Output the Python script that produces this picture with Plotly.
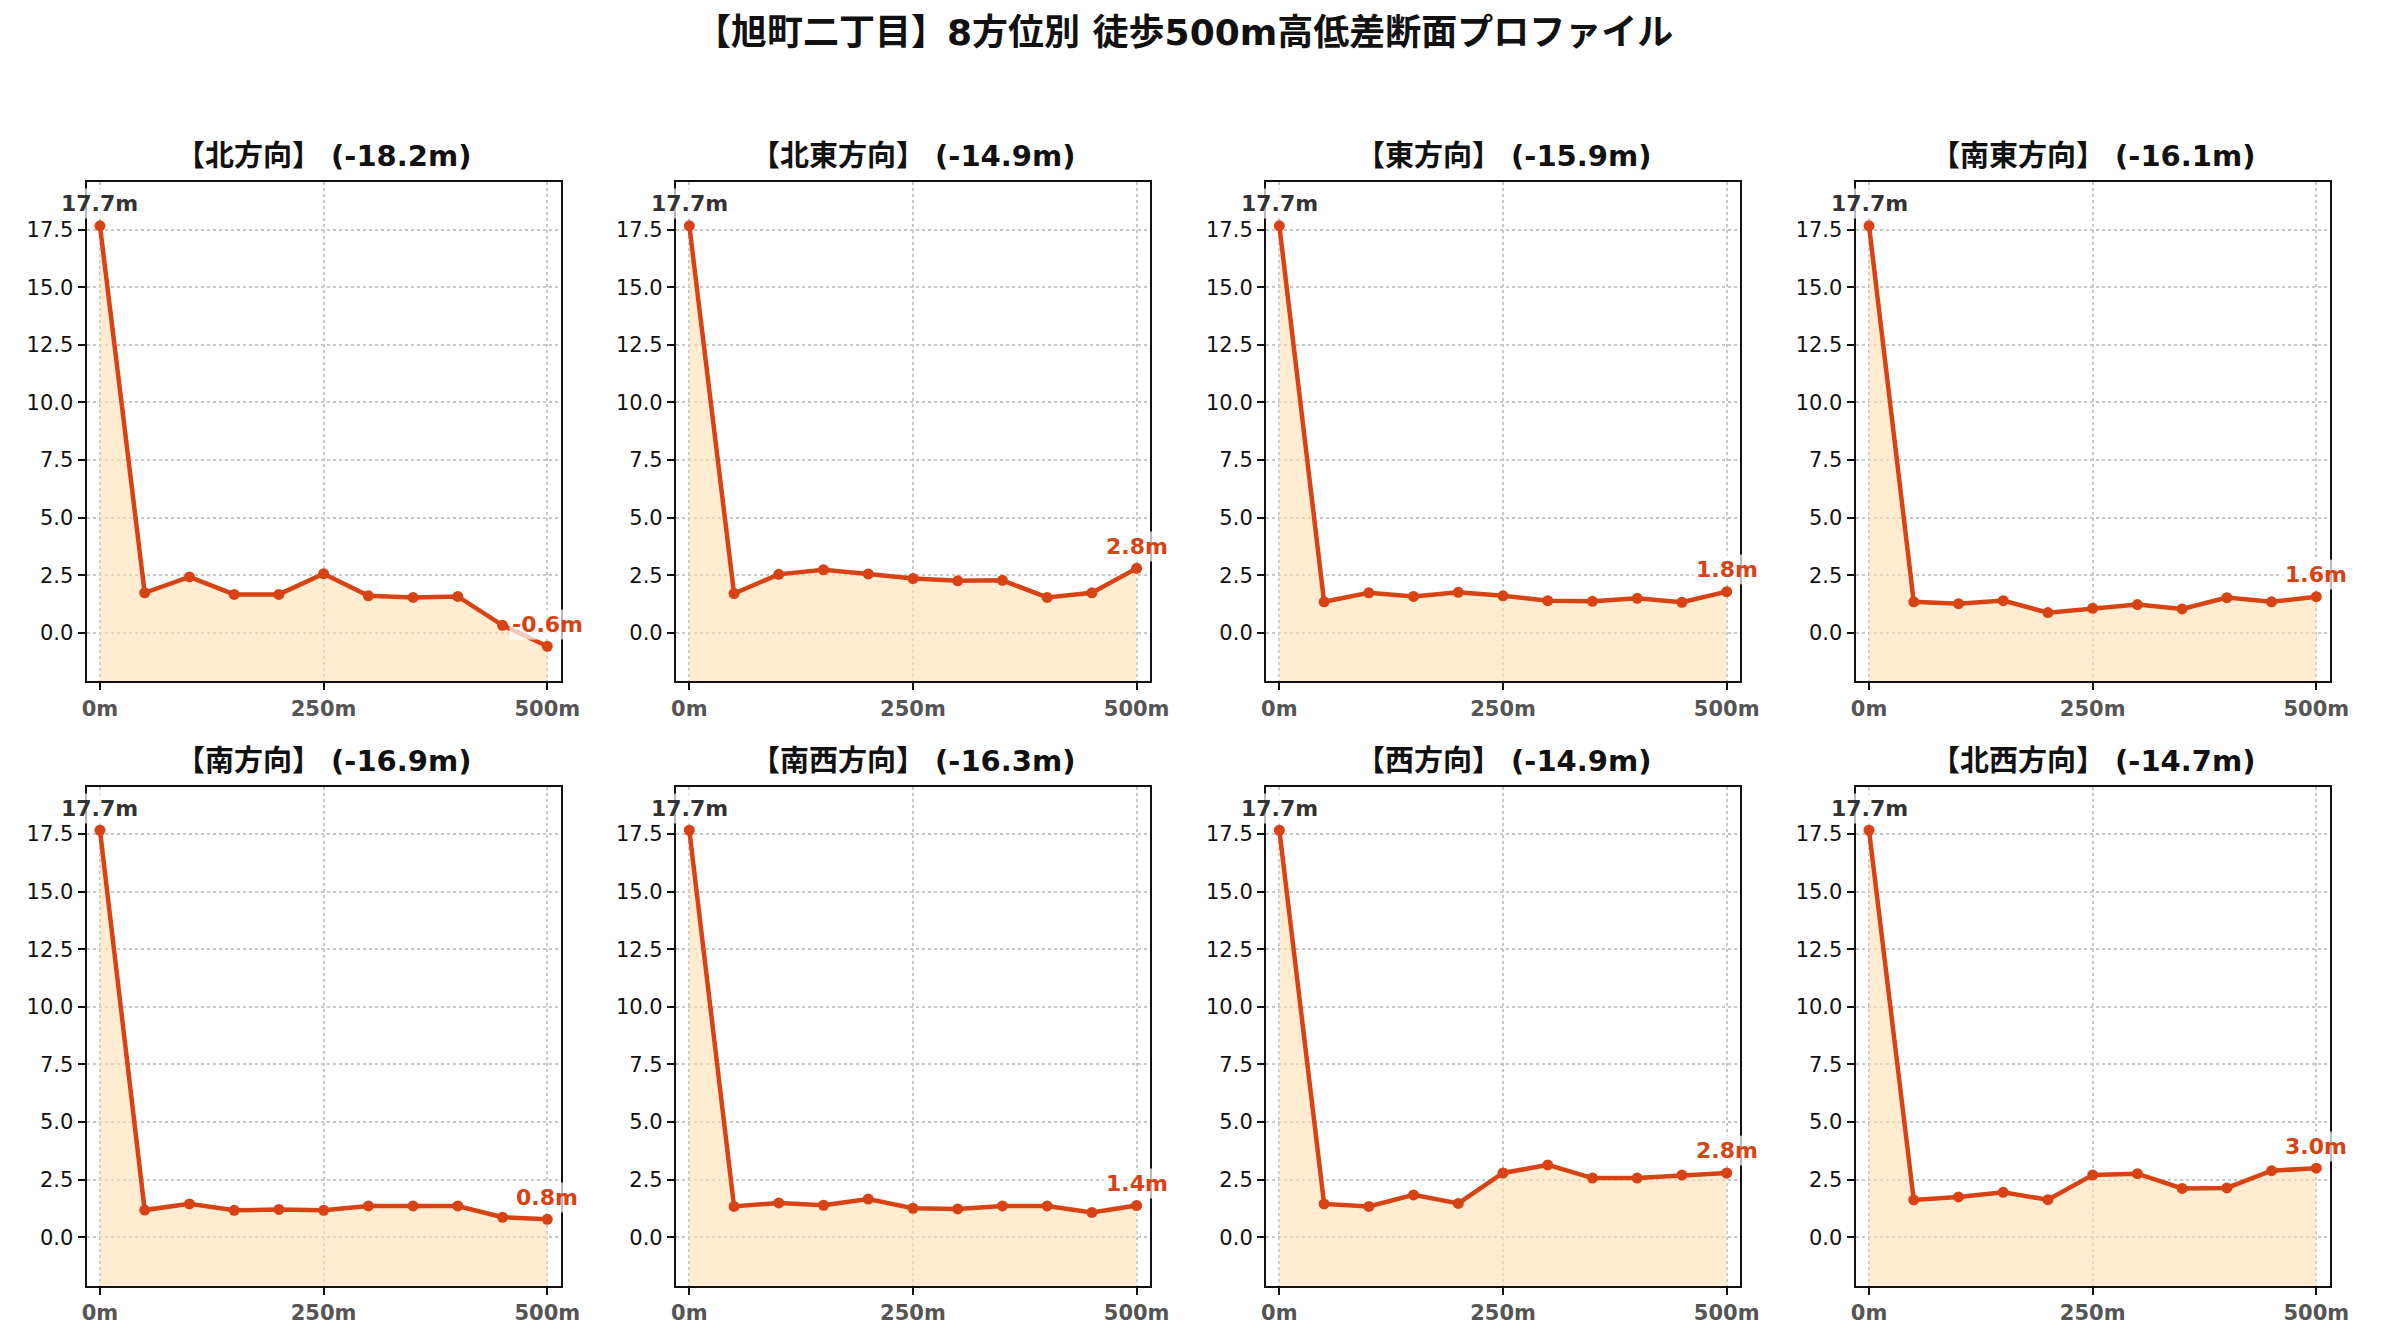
import plotly.graph_objects as go

# distance along each walking line (m)
DIST = [0, 50, 100, 150, 200, 250, 300, 350, 400, 450, 500]

DIRECTIONS = ["北方向", "北東方向", "東方向", "南東方向",
              "南方向", "南西方向", "西方向", "北西方向"]

# elevation (m)
ELEV_N = [17.66, 1.74, 2.43, 1.67, 1.67, 2.57, 1.61, 1.54, 1.58, 0.33, -0.58]
ELEV_NE = [17.66, 1.71, 2.54, 2.74, 2.56, 2.36, 2.26, 2.28, 1.54, 1.74, 2.80]
ELEV_E = [17.66, 1.35, 1.74, 1.58, 1.76, 1.61, 1.40, 1.37, 1.50, 1.33, 1.79]
ELEV_SE = [17.66, 1.35, 1.27, 1.40, 0.88, 1.07, 1.23, 1.04, 1.53, 1.35, 1.57]
ELEV_S = [17.66, 1.18, 1.45, 1.17, 1.21, 1.17, 1.36, 1.36, 1.36, 0.87, 0.78]
ELEV_SW = [17.66, 1.34, 1.49, 1.39, 1.66, 1.26, 1.23, 1.36, 1.36, 1.08, 1.38]
ELEV_W = [17.66, 1.45, 1.34, 1.84, 1.47, 2.79, 3.14, 2.57, 2.57, 2.70, 2.79]
ELEV_NW = [17.66, 1.62, 1.75, 1.95, 1.63, 2.70, 2.76, 2.12, 2.14, 2.89, 3.00]

PROFILES = [ELEV_N, ELEV_NE, ELEV_E, ELEV_SE, ELEV_S, ELEV_SW, ELEV_W, ELEV_NW]

Y_TICKS = [0.0, 2.5, 5.0, 7.5, 10.0, 12.5, 15.0, 17.5]
X_TICKS = [0, 250, 500]
X_TICK_LABELS = ["0m", "250m", "500m"]

TITLE = "【旭町二丁目】8方位別 徒歩500m高低差断面プロファイル"

# page body has an 8px margin, so the figure is a bit smaller and shifted
PAD = 8
W, H = 2381 - 2 * PAD, 1340 - 2 * PAD
Y_RANGE = [-2.1, 19.55]
X_RANGE = [-15, 515]
LINE_COLOR = "#D84315"
FILL_COLOR = "rgba(255,224,178,0.6)"
JP_FONT = "DejaVu Sans, Noto Sans CJK JP, sans-serif"
NUM_FONT = "DejaVu Sans, Noto Sans CJK JP, sans-serif"

col_left = [82.3 - PAD, 677.7 - PAD, 1273.8 - PAD, 1869.5 - PAD]
row_top = [182.3 - PAD, 786.7 - PAD]
panel_w, panel_h = 479, 499

fig = go.Figure()
annotations = []

for i, (name, elev) in enumerate(zip(DIRECTIONS, PROFILES)):
    r, c = divmod(i, 4)
    n = i + 1
    xa = "x" if n == 1 else f"x{n}"
    ya = "y" if n == 1 else f"y{n}"
    x0 = col_left[c] / W
    x1 = (col_left[c] + panel_w) / W
    y1 = 1 - row_top[r] / H
    y0 = 1 - (row_top[r] + panel_h) / H

    # invisible floor so the fill reaches the bottom of the axes
    fig.add_trace(go.Scatter(x=DIST, y=[Y_RANGE[0]] * len(DIST), mode="lines",
                             line=dict(width=0), hoverinfo="skip", showlegend=False,
                             xaxis=xa, yaxis=ya))
    fig.add_trace(go.Scatter(x=DIST, y=elev, mode="lines+markers", fill="tonexty",
                             fillcolor=FILL_COLOR, line=dict(color=LINE_COLOR, width=4.5),
                             marker=dict(size=11, color=LINE_COLOR), showlegend=False,
                             xaxis=xa, yaxis=ya))

    axis_common = dict(showline=True, linecolor="#111111", linewidth=2, mirror=True,
                       ticks="outside", ticklen=7, tickwidth=2, tickcolor="#111111",
                       showgrid=True, gridcolor="#c8c8c8", griddash="dot", gridwidth=1.5,
                       zeroline=False)
    fig.layout[("xaxis" if n == 1 else f"xaxis{n}")] = dict(
        domain=[x0, x1], anchor=ya, range=X_RANGE, tickvals=X_TICKS, ticktext=X_TICK_LABELS,
        tickfont=dict(family=NUM_FONT, size=21, color="#555555", weight="bold"), **axis_common)
    fig.layout[("yaxis" if n == 1 else f"yaxis{n}")] = dict(
        domain=[y0, y1], anchor=xa, range=Y_RANGE, tickvals=Y_TICKS, tickformat=".1f",
        tickfont=dict(family=NUM_FONT, size=21, color="#111111"), **axis_common)

    diff = elev[-1] - elev[0]
    annotations.append(dict(text=f"<b>【{name}】 ({diff:.1f}m)</b>", xref="paper", yref="paper",
                            x=(x0 + x1) / 2, y=1 - (row_top[r] - 26) / H, xanchor="center",
                            yanchor="middle", showarrow=False,
                            font=dict(family=JP_FONT, size=29, color="#111111")))
    annotations.append(dict(text=f"<b>{elev[0]:.1f}m</b>", xref=xa, yref=ya, x=DIST[0], y=elev[0],
                            xanchor="center", yanchor="middle", yshift=22, showarrow=False,
                            bgcolor="rgba(255,255,255,0.7)", borderpad=2,
                            font=dict(family=NUM_FONT, size=22, color="#333333")))
    annotations.append(dict(text=f"<b>{elev[-1]:.1f}m</b>", xref=xa, yref=ya, x=DIST[-1], y=elev[-1],
                            xanchor="center", yanchor="middle", yshift=22, showarrow=False,
                            bgcolor="rgba(255,255,255,0.7)", borderpad=2,
                            font=dict(family=NUM_FONT, size=22, color=LINE_COLOR)))

annotations.append(dict(text=f"<b>{TITLE}</b>", xref="paper", yref="paper", x=0.5,
                        y=1 - (33 - PAD) / H, xanchor="center", yanchor="middle", showarrow=False,
                        font=dict(family=JP_FONT, size=36, color="#111111")))

fig.update_layout(width=W, height=H, margin=dict(l=0, r=0, t=0, b=0),
                  paper_bgcolor="white", plot_bgcolor="white",
                  annotations=annotations)

fig.write_html("out.html")
